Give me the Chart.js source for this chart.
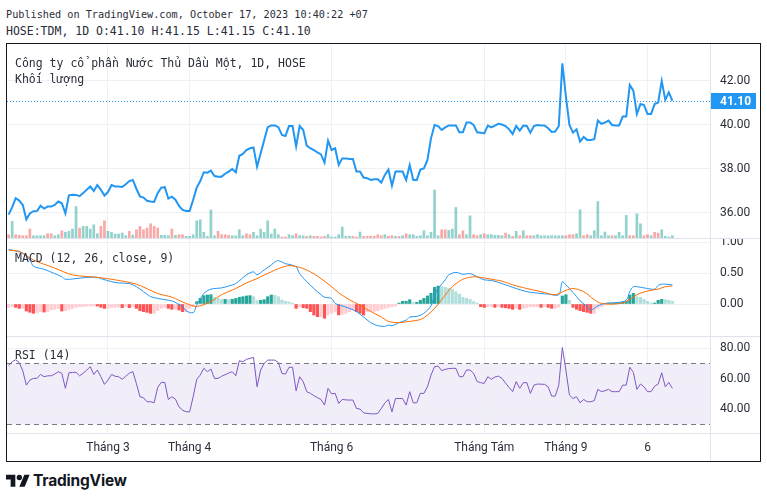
<!DOCTYPE html>
<html><head><meta charset="utf-8">
<script src="https://cdn.jsdelivr.net/npm/chart.js@4.4.0/dist/chart.umd.min.js"></script>
<style>
html,body{margin:0;padding:0;background:#fff;}
#wrap{position:relative;width:767px;height:498px;overflow:hidden;background:#fff;}
.abs{position:absolute;}
.mono{font-family:'DejaVu Sans Mono',monospace;font-size:11.5px;line-height:14px;white-space:nowrap;color:#2a2e39;}
canvas{display:block;}
.hl{position:absolute;height:1px;background:#e0e3eb;}
.vl{position:absolute;width:1px;background:#e0e3eb;}
</style></head><body>
<div id="wrap">
  <div class="abs mono" style="left:6px;top:8px;font-size:10.2px">Published on TradingView.com, October 17, 2023 10:40:22 +07</div>
  <div class="abs mono" style="left:6px;top:24px">HOSE:TDM, 1D O:41.10 H:41.15 L:41.15 C:41.10</div>

  <div class="abs" style="left:7px;top:44px;width:753px;height:194px"><canvas id="cPrice" width="753" height="194"></canvas></div>
  <div class="abs" style="left:7px;top:238px;width:753px;height:98px"><canvas id="cMacd" width="753" height="98"></canvas></div>
  <div class="abs" style="left:7px;top:336px;width:753px;height:125px"><canvas id="cRsi" width="753" height="125"></canvas></div>

  <div class="hl" style="left:7px;top:238px;width:753px"></div>
  <div class="hl" style="left:7px;top:336px;width:753px"></div>
  <div class="hl" style="left:7px;top:433px;width:753px"></div>
  <div class="vl" style="left:710px;top:44px;height:417px"></div>
  <div class="abs" style="left:6px;top:43px;width:753px;height:417px;border:1px solid #131722"></div>

  <div class="abs mono" style="left:15px;top:56px">Công ty cổ phần Nước Thủ Dầu Một, 1D, HOSE</div>
  <div class="abs mono" style="left:15px;top:72px">Khối lượng</div>
  <div class="abs mono" style="left:15px;top:251px">MACD (12, 26, close, 9)</div>
  <div class="abs mono" style="left:15px;top:348px">RSI (14)</div>

  <svg class="abs" style="left:6px;top:472px" width="24" height="19" viewBox="0 0 36 28"><path fill="#131722" d="M14 22H7V11H0V4h14v18zM28 22h-8l7.5-18h8L28 22z"/><circle fill="#131722" cx="20" cy="8" r="4"/></svg>
  <div class="abs" style="left:33px;top:471px;font-family:Inter,'Noto Sans',sans-serif;font-weight:700;font-size:15.5px;line-height:20px;color:#131722;letter-spacing:-0.2px">TradingView</div>
</div>
<script>
// ---------- data ----------
const tickIdx = [28, 51, 91, 134, 157, 180];
const tickLabels = ['Tháng 3', 'Tháng 4', 'Tháng 6', 'Tháng Tám', 'Tháng 9', '6'];
const priceTicks = [36, 38, 40, 42];
const macdTicks = [0, 0.5, 1.0];
const rsiTicks = [40, 60, 80];

const price = [
35.92,36.25,36.67,36.56,36.36,35.71,35.98,36.08,36.09,36.33,
36.2,36.29,36.29,36.36,36.52,36.44,35.98,36.8,36.83,36.82,
36.76,36.9,37.05,37.2,37.0,37.27,37.05,36.79,36.95,37.27,
37.2,37.2,37.18,37.3,37.45,37.5,37.1,36.75,36.7,36.55,
36.52,36.5,36.9,37.15,37.17,36.65,36.74,36.6,36.32,36.14,
36.09,36.09,36.6,37.15,37.45,37.85,37.83,37.92,37.68,37.65,
37.65,37.78,37.88,38.0,37.85,38.6,38.68,38.86,38.94,38.98,
38.1,38.7,39.3,39.9,39.98,39.98,39.9,39.55,39.5,39.95,
39.95,39.02,39.95,39.77,39.06,38.94,38.86,38.75,38.66,38.29,
39.29,38.86,38.94,38.18,38.48,38.48,38.45,38.45,37.88,37.88,
37.61,37.58,37.5,37.53,37.53,37.38,37.73,37.97,37.24,37.88,
37.88,37.88,37.5,38.18,37.5,37.5,37.97,38.02,38.41,39.39,
40.0,39.95,39.77,39.89,39.98,39.98,39.98,39.67,39.67,40.11,
40.11,40.0,39.67,39.65,39.62,39.97,39.89,39.97,40.05,40.02,
39.95,39.8,39.59,39.95,39.74,39.97,39.95,39.65,39.95,40.0,
39.98,39.98,39.85,39.68,39.7,39.95,42.8,41.3,40.0,39.65,
39.8,39.24,39.45,39.32,39.32,39.35,40.2,40.05,40.11,40.2,
40.0,39.98,39.98,40.38,40.38,41.82,41.56,40.5,40.95,40.9,
40.5,40.5,40.95,41.02,42.0,41.14,41.48,41.1];

const volume = [
33,167,33,27,23,23,90,23,23,23,
23,43,43,23,33,73,57,67,90,317,
100,117,117,90,133,43,117,173,67,57,
40,40,50,23,67,30,83,117,83,100,
143,117,100,27,27,23,90,27,33,33,
17,17,33,173,183,57,17,283,23,67,
33,33,27,23,23,83,23,43,33,57,
23,90,57,173,40,90,33,10,10,33,
23,43,23,23,17,23,17,17,10,17,
33,10,10,33,110,17,17,17,10,60,
17,17,17,17,33,23,33,17,23,17,
17,23,43,33,33,17,23,73,23,57,
483,23,83,83,77,90,307,33,73,33,
223,33,23,33,43,33,33,27,27,23,
50,33,17,67,23,73,23,23,23,33,
23,23,23,23,23,23,23,23,33,33,
43,283,23,33,23,73,367,23,60,23,
23,23,57,23,227,23,23,243,143,23,
33,23,57,50,83,17,10,23];

const volumeDir = (
'duddddduuu'+'udduuduuuu'+'duuuuudduu'+'uuuududddd'+'ddduuududd'+
'uuuuuuuuud'+'ddduuuuddu'+'uuuuuuuddu'+'uduududddd'+'uuuuuuuddu'+
'dddddduddu'+'duduuuuuuu'+'uudduuuddu'+'udduduuuuu'+'dudududduu'+
'uuuuuuuddd'+'uudduuuuuu'+'duuuudduud'+'dudduuuu').split('');

const macdHist = [
-0.054,-0.043,-0.054,-0.07,-0.07,-0.113,-0.134,-0.15,-0.14,-0.124,
-0.13,-0.124,-0.097,-0.086,-0.07,-0.113,-0.108,-0.086,-0.07,-0.054,
-0.043,-0.043,-0.032,-0.032,-0.03,-0.032,-0.054,-0.07,-0.07,-0.054,
-0.054,-0.05,-0.059,-0.043,-0.059,-0.043,-0.07,-0.108,-0.124,-0.134,
-0.15,-0.15,-0.108,-0.07,-0.054,-0.07,-0.086,-0.086,-0.097,-0.124,
-0.124,-0.07,-0.043,0.038,0.091,0.135,0.145,0.15,0.108,0.091,
0.075,0.075,0.07,0.075,0.09,0.108,0.118,0.13,0.135,0.118,
0.054,0.06,0.07,0.118,0.145,0.14,0.118,0.065,0.043,0.032,
0.016,-0.07,-0.043,-0.06,-0.07,-0.124,-0.177,-0.204,-0.204,-0.23,
-0.177,-0.15,-0.124,-0.177,-0.17,-0.15,-0.124,-0.097,-0.124,-0.15,
-0.177,-0.124,-0.124,-0.12,-0.108,-0.086,-0.07,-0.054,-0.043,-0.032,
0.016,0.043,0.045,0.07,0.027,0.027,0.06,0.091,0.13,0.172,
0.27,0.29,0.28,0.27,0.253,0.24,0.199,0.16,0.108,0.091,
0.075,0.038,0.016,-0.043,-0.054,-0.043,-0.043,-0.054,-0.043,-0.054,
-0.059,-0.07,-0.086,-0.07,-0.086,-0.07,-0.054,-0.043,-0.043,-0.043,
-0.054,-0.043,-0.054,-0.07,-0.07,-0.054,0.13,0.15,0.06,-0.054,
-0.086,-0.108,-0.124,-0.134,-0.15,-0.15,-0.07,-0.043,-0.02,0.016,
0.016,0.02,0.02,0.027,0.043,0.145,0.172,0.118,0.108,0.075,
0.043,0.016,0.016,0.06,0.075,0.07,0.06,0.043];

const macdBar = [0,2,4,6,7,10,13,15,16,19,22,25,26,29,31,34,36,38,40,42,44,46,49,50,52,53,55,57,60,62,64,67,69,70,72,74,75,76,78,79,81,82,84,86,88,89,91,92,94,96,98,100,102,104,106,107,108,110,112,113,115,117,119,120,121,122,123,124,126,128,130,132,134,136,138,139,141,143,146,150,152,155,156,157,158,160,161,163,164,166,168,171,174,175,176,178,180,182,183,184,185,187];
const macdLine = [0.88,0.855,0.82,0.71,0.61,0.56,0.49,0.44,0.40,0.41,0.43,0.43,0.41,0.36,0.34,0.33,0.28,0.20,0.12,0.09,0.07,0.05,-0.04,-0.11,-0.14,-0.02,0.17,0.24,0.26,0.29,0.33,0.47,0.52,0.47,0.55,0.63,0.68,0.70,0.65,0.64,0.60,0.49,0.36,0.25,0.15,0.11,0.09,0.01,-0.03,-0.07,-0.12,-0.21,-0.30,-0.35,-0.36,-0.34,-0.35,-0.30,-0.26,-0.21,-0.20,-0.15,-0.03,0.15,0.25,0.32,0.39,0.47,0.51,0.48,0.49,0.44,0.39,0.38,0.35,0.33,0.29,0.25,0.2,0.17,0.16,0.15,0.36,0.31,0.25,0.12,0.05,-0.04,-0.10,-0.03,0.01,0.02,0.06,0.20,0.28,0.27,0.25,0.24,0.30,0.32,0.32,0.31];

const signalBar = [0,3,7,13,18,25,30,36,42,46,50,53,57,60,64,67,70,71,74,76,79,82,85,88,91,93,96,99,102,105,107,110,113,116,118,120,122,125,128,131,134,137,139,142,146,150,154,157,159,162,165,167,171,174,177,180,183,185,187];
const signalLine = [0.87,0.85,0.71,0.58,0.47,0.43,0.39,0.32,0.17,0.11,0.01,-0.04,0.04,0.15,0.25,0.34,0.41,0.44,0.52,0.57,0.62,0.59,0.52,0.41,0.28,0.18,0.07,-0.02,-0.12,-0.21,-0.28,-0.30,-0.28,-0.25,-0.18,-0.07,0.07,0.28,0.40,0.44,0.42,0.39,0.37,0.31,0.25,0.2,0.15,0.22,0.25,0.2,0.07,0.01,0.0,0.04,0.15,0.21,0.24,0.28,0.29];

const rsi = [
68.5,71,72.3,70.5,65,55.7,59,60.1,60.1,62.7,
61.2,61.8,61.8,62.9,64.5,63.4,53.6,63.8,64,64.1,
61.8,63.4,65.5,67.8,62.7,65.6,61.2,56.2,59,62.7,
61.5,61.2,59.5,61.5,63.5,64.5,56.8,48.1,47.4,44.8,
44.8,44.1,54.2,57.5,57.5,46.3,48.1,46.5,41.5,39.3,
38.2,38.2,48.1,59.5,62.3,66.7,64.5,66.2,60.1,60.1,
61.5,62.5,63.6,64.5,61.8,71.7,71,72.6,73.2,73.9,
54.6,65.6,69.9,72.1,72.1,72.1,70.5,63.4,62.9,67.4,
67.4,52,61.2,58,51.4,50.3,48.8,47.5,46.3,42.6,
53.6,49.9,50.3,43.7,46.3,46,45.9,45.9,40.4,40,
37.6,37.1,36.9,36.8,37.1,40.4,44,46.3,38.2,46.9,
46.9,46.9,42.6,51.4,44.1,44.1,50.3,50.3,54.6,62.3,
67.8,68.2,65.2,66,66.5,66.7,66.7,61.2,61.2,65.6,
65.6,63.4,58,57.3,56.8,61.2,59.5,61,61.6,60.1,
57,54.2,51.4,58,53.6,57.3,57.3,50.3,55.7,56.4,
56.3,56.2,54.6,48.5,48.5,55.7,80.4,65.6,49.2,46.9,
48.1,44.1,46.3,44.8,44.8,45.5,52.9,51.4,52,52.9,
51.4,51.4,51.4,55.7,55.7,67.4,64.1,52.9,56.4,54.6,
51.4,51.4,55,56.4,63.8,54.6,57.5,53.6];
const rsiUpper = 70, rsiLower = 30;

// ---------- styling ----------
const X_MIN = -0.45, X_MAX = 197.6;
const GRID = '#eef0f4';
const TXT = '#2a2e39';
const AXIS_FONT = {family: 'Roboto', size: 12};
const BLUE = '#2196f3';

function xScale(showLabels) {
  return {
    type: 'linear', min: X_MIN, max: X_MAX, bounds: 'data', display: true, offset: false,
    grid: {color: GRID, drawTicks: false, offset: false},
    border: {display: false},
    ticks: {display: showLabels, autoSkip: false, maxRotation: 0, padding: 8, color: TXT, font: AXIS_FONT,
      callback: v => { const k = tickIdx.indexOf(v); return k >= 0 ? tickLabels[k] : ''; }},
    afterBuildTicks: s => { s.ticks = tickIdx.map(v => ({value: v})); },
    afterFit: s => { s.height = showLabels ? 28 : 0; s.paddingLeft = 0; s.paddingRight = 0; }
  };
}
function yScale(min, max, ticks) {
  return {
    type: 'linear', position: 'right', min, max, bounds: 'data',
    grid: {color: GRID, drawTicks: false},
    border: {display: false},
    ticks: {padding: 10, color: TXT, font: AXIS_FONT, callback: v => Number(v).toFixed(2)},
    afterBuildTicks: s => { s.ticks = ticks.map(v => ({value: v})); },
    afterFit: s => { s.width = 50; s.paddingTop = 0; s.paddingBottom = 0; }
  };
}
const baseOpts = {
  responsive: false, animation: false, events: [],
  layout: {padding: 0},
  plugins: {legend: {display: false}, tooltip: {enabled: false}}
};
const pts = arr => arr.map((v, i) => ({x: i, y: v}));
const pairs = (xs, ys) => xs.map((x, i) => ({x, y: ys[i]}));

// ---------- price + volume ----------
const volMax = Math.max(...volume) * 4.04;
const lastPricePlugin = {
  id: 'lastPrice',
  afterDatasetsDraw(chart) {
    const y = chart.scales.y, a = chart.chartArea, ctx = chart.ctx;
    const last = price[price.length - 1];
    const py = Math.round(y.getPixelForValue(last)) + 0.5;
    ctx.save();
    ctx.strokeStyle = BLUE; ctx.lineWidth = 1; ctx.setLineDash([1, 2]);
    ctx.beginPath(); ctx.moveTo(a.left, py); ctx.lineTo(a.right, py); ctx.stroke();
    ctx.setLineDash([]);
    ctx.fillStyle = BLUE; ctx.fillRect(a.right, py - 8.5, 46, 16);
    ctx.fillStyle = '#fff'; ctx.font = 'bold 12px Roboto'; ctx.textBaseline = 'middle'; ctx.textAlign = 'left';
    ctx.fillText(last.toFixed(2), a.right + 10, py);
    ctx.restore();
  }
};
new Chart(document.getElementById('cPrice'), {
  type: 'line',
  data: {datasets: [
    {type: 'line', data: pts(price), borderColor: BLUE, borderWidth: 2, pointRadius: 0, tension: 0, order: 0, yAxisID: 'y'},
    {type: 'bar', data: pts(volume), yAxisID: 'vol', order: 1, barThickness: 2, grouped: false,
     backgroundColor: volumeDir.map(d => d === 'u' ? 'rgba(38,166,154,0.5)' : 'rgba(239,83,80,0.5)')}
  ]},
  options: Object.assign({}, baseOpts, {
    scales: {
      x: xScale(false),
      y: yScale(34.86, 43.68, priceTicks),
      vol: {type: 'linear', display: false, min: 0, max: volMax}
    }
  }),
  plugins: [lastPricePlugin]
});

// ---------- MACD ----------
const histColors = macdHist.map((v, i) => {
  const prev = i > 0 ? macdHist[i - 1] : v;
  if (v >= 0) return v >= prev ? '#26a69a' : '#b2dfdb';
  return v < prev ? '#ff5252' : '#ffcdd2';
});
new Chart(document.getElementById('cMacd'), {
  type: 'line',
  data: {datasets: [
    {type: 'bar', data: pts(macdHist), backgroundColor: histColors, barThickness: 2.5, grouped: false, order: 2},
    {type: 'line', data: pairs(macdBar, macdLine), borderColor: BLUE, borderWidth: 1, pointRadius: 0, tension: 0.3, order: 1},
    {type: 'line', data: pairs(signalBar, signalLine), borderColor: '#ff6d00', borderWidth: 1, pointRadius: 0, tension: 0.3, order: 0}
  ]},
  options: Object.assign({}, baseOpts, {
    scales: {x: xScale(false), y: yScale(-0.516, 1.065, macdTicks)}
  })
});

// ---------- RSI ----------
const rsiBandPlugin = {
  id: 'rsiBand',
  beforeDraw(chart) {
    const y = chart.scales.y, a = chart.chartArea, ctx = chart.ctx;
    const yu = y.getPixelForValue(rsiUpper), yl = y.getPixelForValue(rsiLower);
    ctx.save(); ctx.fillStyle = 'rgba(126,87,194,0.1)';
    ctx.fillRect(a.left, yu, a.right - a.left, yl - yu); ctx.restore();
  },
  beforeDatasetsDraw(chart) {
    const y = chart.scales.y, a = chart.chartArea, ctx = chart.ctx;
    ctx.save(); ctx.strokeStyle = '#787b86'; ctx.lineWidth = 1; ctx.setLineDash([5, 4]);
    [rsiUpper, rsiLower].forEach(v => {
      const py = Math.round(y.getPixelForValue(v)) + 0.5;
      ctx.beginPath(); ctx.moveTo(a.left, py); ctx.lineTo(a.right, py); ctx.stroke();
    });
    ctx.restore();
  }
};
new Chart(document.getElementById('cRsi'), {
  type: 'line',
  data: {datasets: [
    {data: pts(rsi), borderColor: '#7e57c2', borderWidth: 1, pointRadius: 0, tension: 0}
  ]},
  options: Object.assign({}, baseOpts, {
    scales: {x: xScale(true), y: yScale(24.3, 87.9, rsiTicks)}
  }),
  plugins: [rsiBandPlugin]
});
</script>
</body></html>
